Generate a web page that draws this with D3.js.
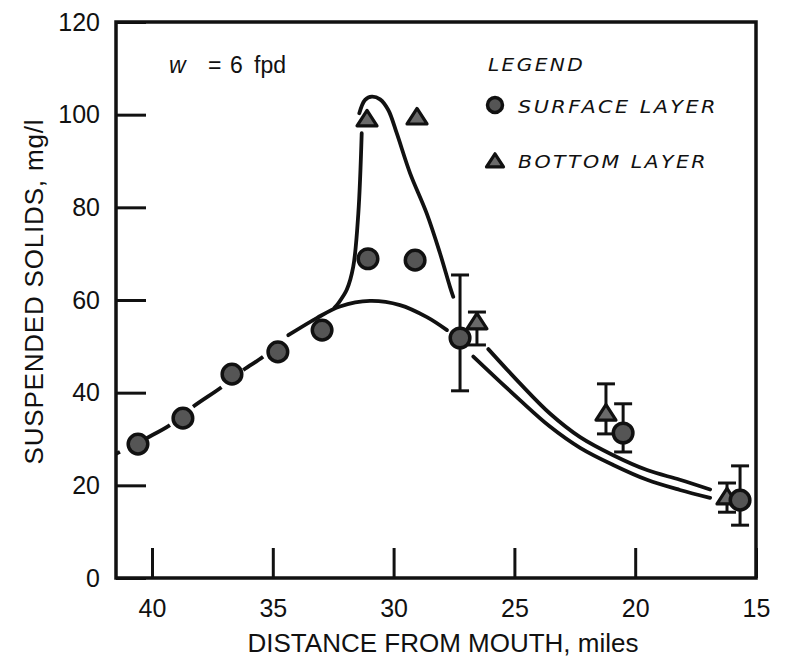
<!DOCTYPE html>
<html><head><meta charset="utf-8">
<script src="https://cdn.jsdelivr.net/npm/d3@7"></script>
<style>
html,body{margin:0;padding:0;background:#fff;}
svg{display:block;font-family:"Liberation Sans",Arial,Helvetica,sans-serif;}
</style></head><body>
<svg id="chart" width="791" height="663"></svg>
<script>
// Axis ticks
const xTicks = [40, 35, 30, 25, 20, 15];
const yTicks = [0, 20, 40, 60, 80, 100, 120];

// Measured suspended solids, surface layer: [mile, mg/l]
const surfaceObs = [[40.58,28.9],[38.72,34.5],[36.69,44.0],[34.79,48.8],[32.96,53.5],
                    [31.06,68.9],[29.11,68.6],[27.25,51.8],[20.5,31.3],[15.66,16.8]];
// Surface-layer ranges: [mile, low, high]
const surfaceRange = [[27.25,40.4,65.4],[20.5,27.2,37.6],[15.66,11.4,24.2]];

// Measured suspended solids, bottom layer: [mile, mg/l]
const bottomObs = [[31.1,99.1],[29.03,99.5],[26.55,55.3],[21.21,35.6],[16.2,17.5]];
// Bottom-layer ranges: [mile, low, high]
const bottomRange = [[26.55,50.3,57.4],[21.21,31.1,41.9],[16.2,14.2,20.5]];

// Computed profile, upstream reach (dashed)
const surfaceUpstream = [[41.49,26.8],[40.22,30.2],[39.255,33.0],[38.29,37.0],[37.115,41.2],
                         [36.22,44.9],[35.39,47.8],[34.36,52.4]];
// Computed surface profile through the dredging reach
const surfaceMid = [[34.36,52.4],[33.18,56.1],[32.22,58.6],[30.98,59.8],[29.735,58.9],
                    [28.62,56.3],[27.79,53.5]];
// Computed surface profile, downstream reach
const surfaceDown = [[26.70,47.8],[24.77,38.4],[23.53,32.7],[22.28,28.1],[20.91,24.4],
                     [19.51,21.2],[18.15,19.0],[16.9,17.3]];
// Computed bottom profile: rising limb of the plume
const bottomRise = [[32.45,58.3],[32.29,59.3],[31.94,62.2],[31.67,67.2],[31.46,78.7],[31.32,96.0]];
// Computed bottom profile: crest and falling limb
const bottomFall = [[31.42,100.3],[31.18,103.2],[30.9,103.9],[30.56,103.3],[30.22,101.0],
                    [29.87,96.0],[29.32,87.4],[28.63,78.7],[28.08,70.1],[27.67,62.9],[27.53,60.7]];
// Computed bottom profile, downstream reach
const bottomDown = [[26.08,49.4],[24.77,42.0],[23.53,35.5],[22.28,30.4],[20.91,26.5],
                    [19.51,23.3],[18.15,21.2],[16.9,19.1]];

const svg = d3.select("#chart");
const ink = "#111";

const x = d3.scaleLinear().domain([41.49, 15]).range([116, 756]);
const y = d3.scaleLinear().domain([0, 120]).range([578, 22]);

// Axes with inward ticks
const yAxis = svg.append("g").attr("transform", `translate(${x.range()[0]},0)`)
  .call(d3.axisLeft(y).tickValues(yTicks).tickSize(-30).tickPadding(16));
const xAxis = svg.append("g").attr("transform", `translate(0,${y.range()[0]})`)
  .call(d3.axisBottom(x).tickValues(xTicks).tickSize(-30).tickPadding(21));
[yAxis, xAxis].forEach(g => {
  g.select(".domain").remove();
  g.selectAll(".tick line").attr("stroke", ink).attr("stroke-width", 3);
  g.selectAll(".tick text").attr("fill", ink).style("font-size", "25px")
    .style("font-family", "'Liberation Sans', Arial, sans-serif");
});

// Frame
svg.append("rect")
  .attr("x", x.range()[0]).attr("y", y.range()[1])
  .attr("width", x.range()[1] - x.range()[0]).attr("height", y.range()[0] - y.range()[1])
  .attr("fill", "none").attr("stroke", ink).attr("stroke-width", 3.5);

// Profiles
const line = d3.line().x(d => x(d[0])).y(d => y(d[1])).curve(d3.curveCatmullRom.alpha(0.5));
const curves = svg.append("g").attr("fill", "none").attr("stroke", ink)
  .attr("stroke-width", 3.8).attr("stroke-linecap", "round");
curves.append("path").attr("d", line(surfaceUpstream))
  .attr("stroke-linecap", "butt")
  .attr("stroke-dasharray", "4.5 29.8 26.8 29.6 34.4 27.7 24 40");
[surfaceMid, surfaceDown, bottomRise, bottomFall, bottomDown].forEach(c =>
  curves.append("path").attr("d", line(c)));

// Ranges
const capW = 9;
function drawRanges(data) {
  const g = svg.append("g").attr("stroke", ink).attr("stroke-width", 3);
  data.forEach(([m, lo, hi]) => {
    g.append("line").attr("x1", x(m)).attr("x2", x(m)).attr("y1", y(lo)).attr("y2", y(hi));
    g.append("line").attr("x1", x(m) - capW).attr("x2", x(m) + capW).attr("y1", y(lo)).attr("y2", y(lo));
    g.append("line").attr("x1", x(m) - capW).attr("x2", x(m) + capW).attr("y1", y(hi)).attr("y2", y(hi));
  });
}
drawRanges(surfaceRange);
drawRanges(bottomRange);

// Markers
const triPath = "M0,-8.5L10,7L-10,7Z";
function circleMark(g, cx, cy, r) {
  g.append("circle").attr("cx", cx).attr("cy", cy).attr("r", r)
    .attr("fill", "#555").attr("stroke", ink).attr("stroke-width", 3.5);
}
function triMark(g, cx, cy, s) {
  g.append("path").attr("d", triPath).attr("transform", `translate(${cx},${cy}) scale(${s})`)
    .attr("fill", "#6a6a6a").attr("stroke", ink).attr("stroke-width", 3.2 / s)
    .attr("stroke-linejoin", "round");
}
const marks = svg.append("g");
bottomObs.forEach(d => triMark(marks, x(d[0]), y(d[1]), 1));
surfaceObs.forEach(d => circleMark(marks, x(d[0]), y(d[1]), 9.8));

// Annotation
const note = svg.append("text").attr("y", 73).attr("fill", ink).style("font-size", "23px");
note.append("tspan").attr("x", 169).style("font-style", "italic").text("w");
note.append("tspan").attr("x", 208).text("=");
note.append("tspan").attr("x", 230).text("6");
note.append("tspan").attr("x", 254).text("fpd");

// Legend (wide italic lettering)
const leg = svg.append("g").attr("fill", ink);
function legText(xp, yp, len, str) {
  leg.append("text").attr("x", xp).attr("y", yp)
    .attr("textLength", len).attr("lengthAdjust", "spacingAndGlyphs")
    .style("font-style", "italic").style("font-size", "17px").style("letter-spacing", "2px")
    .style("font-family", "'DejaVu Sans', Verdana, sans-serif")
    .text(str);
}
legText(488, 71, 97, "LEGEND");
circleMark(leg, 495, 105, 7.5);
legText(518, 113, 200, "SURFACE LAYER");
triMark(leg, 495, 161, 0.85);
legText(518, 168, 190, "BOTTOM LAYER");

// Axis titles
svg.append("text").attr("x", 443).attr("y", 652).attr("text-anchor", "middle")
  .attr("fill", ink).style("font-size", "26px")
  .text("DISTANCE FROM MOUTH, miles");
svg.append("text").attr("transform", "translate(43,292) rotate(-90)").attr("text-anchor", "middle")
  .attr("fill", ink).style("font-size", "26px").attr("textLength", 345)
  .text("SUSPENDED SOLIDS, mg/l");
</script>
</body></html>
